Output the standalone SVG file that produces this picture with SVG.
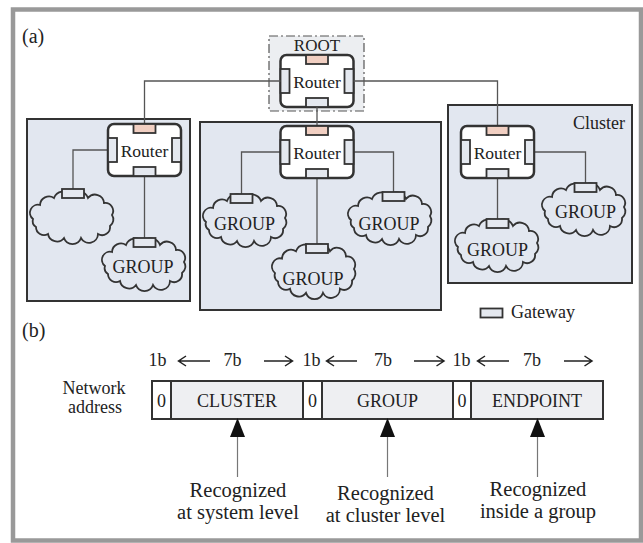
<svg xmlns="http://www.w3.org/2000/svg" xmlns:xlink="http://www.w3.org/1999/xlink" width="643" height="543" viewBox="0 0 643 543">
<style>
.t{font-family:"Liberation Serif","Times New Roman",serif;font-size:18px;fill:#222;text-anchor:middle}
.rtxt{font-size:17.5px}
.lab{font-size:20.5px}
.cl{fill:#e2e7f0;stroke:#333;stroke-width:2}
.rt{fill:#fff;stroke:#333;stroke-width:2.5}
.gw{fill:#e4e8ef;stroke:#333;stroke-width:1.8}
.gp{fill:#f1cfc2;stroke:#333;stroke-width:1.8}
.cloud{fill:#e2e7f0;stroke:#333;stroke-width:1.8}
.ln{fill:none;stroke:#555;stroke-width:1.3}
.ar{fill:none;stroke:#222;stroke-width:1.5}
.cell{fill:#eeeff2;stroke:#333;stroke-width:2}
.zero{fill:#fff;stroke:#333;stroke-width:2}
</style>
<defs>
<g id="rtr">
<rect class="rt" x="0" y="0" width="73" height="52" rx="6"/>
<rect class="gp" x="25.5" y="0" width="22" height="9"/>
<rect class="gw" x="25.5" y="43" width="22" height="9"/>
<rect class="gw" x="0" y="14" width="9" height="24"/>
<rect class="gw" x="64" y="14" width="9" height="24"/>
</g>
<path id="cloudp" class="cloud" d="M 5,28 A 8,8 0 0 1 12,14 A 9,9 0 0 1 26,7 A 10,10 0 0 1 43,4 A 10,10 0 0 1 60,7 A 9,9 0 0 1 76,12 A 8,8 0 0 1 84,24 A 8,8 0 0 1 82,35 A 8,8 0 0 1 70,43 A 9,9 0 0 1 53,47 A 9,9 0 0 1 36,47 A 9,9 0 0 1 20,43 A 8,8 0 0 1 8,36 A 7,7 0 0 1 5,28 Z"/>
</defs>
<rect x="0" y="0" width="643" height="543" fill="#fff"/>
<rect id="frame" x="13" y="9.5" width="628" height="531" fill="none" stroke="#999" stroke-width="4.5"/>
<text class="t" x="22" y="43" style="text-anchor:start;font-size:20px">(a)</text>

<g id="cluster1">
<rect class="cl" x="27" y="119" width="163" height="182"/>
</g>
<g id="cluster2">
<rect class="cl" x="200" y="122" width="241" height="188"/>
</g>
<g id="cluster3">
<rect class="cl" x="448" y="105" width="184" height="178"/>
<text class="t" x="625" y="129" style="text-anchor:end">Cluster</text>
</g>

<g id="root">
<rect x="269" y="36" width="95" height="75" fill="#eceef1" stroke="#555" stroke-width="1.2" stroke-dasharray="9,3,2,3"/>
<text class="t" x="317" y="51" style="font-size:17px">ROOT</text>
<use xlink:href="#rtr" href="#rtr" transform="translate(280.5,55)"/>
<text class="t rtxt" x="317" y="88">Router</text>
</g>

<g id="connectors">
<path class="ln" d="M 280.5,81 H 144.5 V 124"/>
<path class="ln" d="M 353.5,81 H 497.5 V 126"/>
<path class="ln" d="M 317,107 V 126"/>
<path class="ln" d="M 108,150 H 73 V 189"/>
<path class="ln" d="M 144.5,176 V 238"/>
<path class="ln" d="M 280.5,152 H 241.5 V 194"/>
<path class="ln" d="M 353.5,152 H 393.5 V 192"/>
<path class="ln" d="M 317,178 V 244"/>
<path class="ln" d="M 534,152 H 585.5 V 183"/>
<path class="ln" d="M 497.5,178 V 219"/>
</g>

<g id="router1">
<use xlink:href="#rtr" href="#rtr" transform="translate(108,124)"/>
<text class="t rtxt" x="144.5" y="157">Router</text>
</g>
<g id="router2">
<use xlink:href="#rtr" href="#rtr" transform="translate(280.5,126)"/>
<text class="t rtxt" x="317" y="159">Router</text>
</g>
<g id="router3">
<use xlink:href="#rtr" href="#rtr" transform="translate(461,126)"/>
<text class="t rtxt" x="497.5" y="159">Router</text>
</g>

<g id="cloud1a">
<use xlink:href="#cloudp" href="#cloudp" transform="translate(28,191)"/>
<rect class="gw" x="62" y="189" width="22" height="9"/>
</g>
<g id="cloud1b">
<use xlink:href="#cloudp" href="#cloudp" transform="translate(100,238)"/>
<rect class="gw" x="133.5" y="238" width="22" height="9"/>
<text class="t" x="143" y="273">GROUP</text>
</g>
<g id="cloud2l">
<use xlink:href="#cloudp" href="#cloudp" transform="translate(201,194)"/>
<rect class="gw" x="230.5" y="194" width="22" height="9"/>
<text class="t" x="244.5" y="230">GROUP</text>
</g>
<g id="cloud2r">
<use xlink:href="#cloudp" href="#cloudp" transform="translate(346,192)"/>
<rect class="gw" x="382.5" y="192" width="22" height="9"/>
<text class="t" x="389" y="230">GROUP</text>
</g>
<g id="cloud2m">
<use xlink:href="#cloudp" href="#cloudp" transform="translate(270,244) scale(1,1.04)"/>
<rect class="gw" x="306" y="244" width="22" height="9"/>
<text class="t" x="313" y="285">GROUP</text>
</g>
<g id="cloud3r">
<use xlink:href="#cloudp" href="#cloudp" transform="translate(540,183)"/>
<rect class="gw" x="574.5" y="183" width="22" height="9"/>
<text class="t" x="585.5" y="218">GROUP</text>
</g>
<g id="cloud3b">
<use xlink:href="#cloudp" href="#cloudp" transform="translate(453,219)"/>
<rect class="gw" x="486.5" y="219" width="22" height="9"/>
<text class="t" x="497.5" y="256">GROUP</text>
</g>

<g id="legend">
<rect class="gw" x="480.5" y="308.5" width="22" height="9"/>
<text class="t" x="511" y="318" style="text-anchor:start">Gateway</text>
</g>

<text class="t" x="22" y="337" style="text-anchor:start;font-size:20px">(b)</text>

<g id="bits">
<text class="t" x="157.5" y="366">1b</text>
<text class="t" x="232.5" y="366">7b</text>
<text class="t" x="311.5" y="366">1b</text>
<text class="t" x="383" y="366">7b</text>
<text class="t" x="461.5" y="366">1b</text>
<text class="t" x="532" y="366">7b</text>
<path class="ar" d="M 210,361 H 178.5 M 186,356 L 178.5,361 L 186,366"/>
<path class="ar" d="M 264,361 H 292.5 M 285,356 L 292.5,361 L 285,366"/>
<path class="ar" d="M 357,361 H 326.5 M 334,356 L 326.5,361 L 334,366"/>
<path class="ar" d="M 414,361 H 444 M 436.5,356 L 444,361 L 436.5,366"/>
<path class="ar" d="M 509,361 H 477.5 M 485,356 L 477.5,361 L 485,366"/>
<path class="ar" d="M 564,361 H 592 M 584.5,356 L 592,361 L 584.5,366"/>
</g>

<g id="address">
<text class="t" x="94" y="394">Network</text>
<text class="t" x="95" y="413">address</text>
<rect class="zero" x="152" y="381" width="19" height="38"/>
<rect class="cell" x="171" y="381" width="132" height="38"/>
<rect class="zero" x="303" y="381" width="19" height="38"/>
<rect class="cell" x="322" y="381" width="131" height="38"/>
<rect class="zero" x="453" y="381" width="18" height="38"/>
<rect class="cell" x="471" y="381" width="132" height="38"/>
<text class="t" x="161.5" y="406.5">0</text>
<text class="t" x="237" y="406.5">CLUSTER</text>
<text class="t" x="312.5" y="406.5">0</text>
<text class="t" x="387.5" y="406.5">GROUP</text>
<text class="t" x="462" y="406.5">0</text>
<text class="t" x="537" y="406.5">ENDPOINT</text>
</g>

<g id="pointers">
<polygon points="237.5,418 230,437 245,437" fill="#111"/>
<line x1="237.5" y1="437" x2="237.5" y2="477" stroke="#777" stroke-width="1.2"/>
<polygon points="387.5,418 380,437 395,437" fill="#111"/>
<line x1="387.5" y1="437" x2="387.5" y2="477" stroke="#777" stroke-width="1.2"/>
<polygon points="537.5,418 530,437 545,437" fill="#111"/>
<line x1="537.5" y1="437" x2="537.5" y2="477" stroke="#777" stroke-width="1.2"/>
<text class="t lab" x="238" y="497">Recognized</text>
<text class="t lab" x="238" y="519">at system level</text>
<text class="t lab" x="385.5" y="500">Recognized</text>
<text class="t lab" x="385.5" y="522">at cluster level</text>
<text class="t lab" x="538" y="496">Recognized</text>
<text class="t lab" x="538" y="518">inside a group</text>
</g>
</svg>
